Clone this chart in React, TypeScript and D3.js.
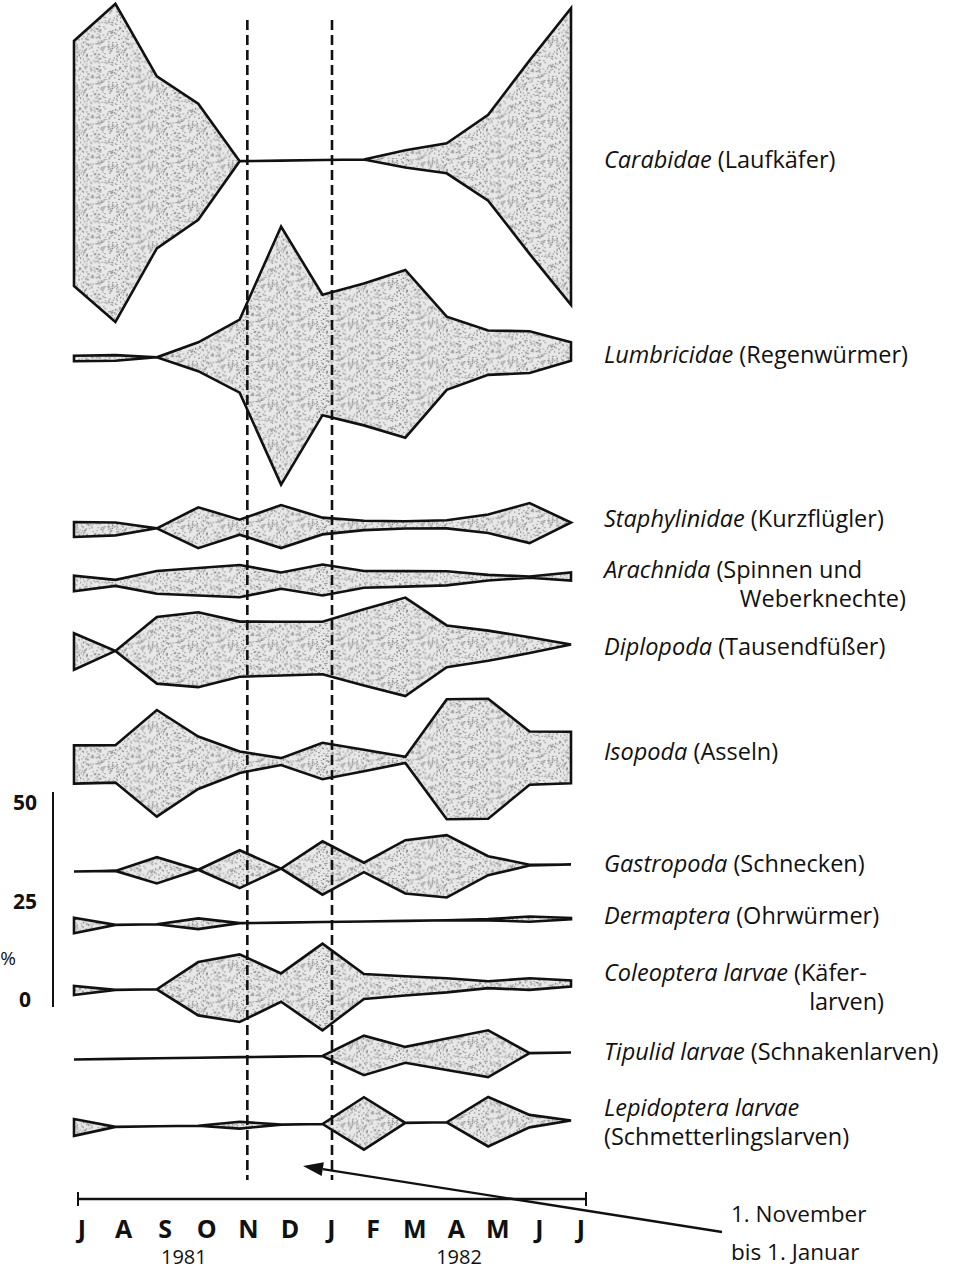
import React from "react";
import * as d3 from "d3";

// sampling months (Juli 1981 .. Juli 1982)
const months = ["J", "A", "S", "O", "N", "D", "J", "F", "M", "A", "M", "J", "J"];
const yearLabels = ["1981", "1982"];
const yearAt = [2.5, 9];

// relative abundance in %, one value per monthly sample
const carabidae = [57, 74, 40, 27, 0, 0, 0, 0, 4, 7, 20, 45, 69];
const lumbricidae = [1.3, 1.3, 0, 6.7, 17, 60, 28, 33, 39, 17, 10.3, 9.7, 4.3];
const staphylinidae = [3.5, 3, 0, 9.5, 3.5, 10, 3.9, 2.2, 1.7, 1.9, 4.3, 9.3, 0];
const arachnida = [3.6, 1.4, 5.3, 6.4, 7.5, 3.8, 7.2, 3.9, 3.6, 3.3, 1.3, 0.3, 1.9];
const diplopoda = [8.5, 0, 15.5, 17.4, 12.8, 12.5, 12.2, 17.7, 22.9, 9.7, 7, 3.7, 0];
const isopoda = [8.9, 8.7, 24.8, 12.2, 5, 1.6, 8.5, 5, 1.4, 27.9, 27.9, 12.4, 12];
const gastropoda = [0, 0, 6.1, 0, 8.8, 0, 12.4, 2.2, 12.4, 14.5, 4.4, 0.2, 0];
const dermaptera = [3.6, 0, 0, 2.5, 0, 0, 0, 0, 0, 0, 0.3, 1.2, 0.3];
const coleopteraLarvae = [2.1, 0, 0, 12.4, 15.7, 6.6, 20.2, 5.8, 4.5, 3.3, 1.6, 2.7, 1.4];
const tipulidLarvae = [0, 0, 0, 0, 0, 0, 0, 9.2, 3.7, 7.3, 10.9, 0, 0];
const lepidopteraLarvae = [3.9, 0, 0, 0, 1.6, 0, 0, 12.2, 0, 0, 11.5, 2.9, 0];

const series = [
  carabidae, lumbricidae, staphylinidae, arachnida, diplopoda, isopoda,
  gastropoda, dermaptera, coleopteraLarvae, tipulidLarvae, lepidopteraLarvae,
];

// labels: [italic, normal] per line
const labels: string[][][] = [
  [["Carabidae", " (Laufkäfer)"]],
  [["Lumbricidae", " (Regenwürmer)"]],
  [["Staphylinidae", " (Kurzflügler)"]],
  [["Arachnida", " (Spinnen und"], ["", "Weberknechte)"]],
  [["Diplopoda", " (Tausendfüßer)"]],
  [["Isopoda", " (Asseln)"]],
  [["Gastropoda", " (Schnecken)"]],
  [["Dermaptera", " (Ohrwürmer)"]],
  [["Coleoptera larvae", " (Käfer-"], ["", "larven)"]],
  [["Tipulid larvae", " (Schnakenlarven)"]],
  [["Lepidoptera larvae", ""], ["", "(Schmetterlingslarven)"]],
];

const scaleTicks = [0, 25, 50];
const note = ["1. November", "bis 1. Januar"];

// layout
const rowCenter = [160, 355, 526, 580, 648, 761, 868, 922, 987, 1056, 1124];
const labelBase = [168, 363, 527, 578, 655, 760, 872, 924, 981, 1060, 1116];
const secondLineEnd = [0, 0, 0, 906, 0, 0, 0, 0, 884, 0, 0];

const FONT = "'Open Sans', Lato, sans-serif";

// deterministic grain for the stippled fill
const grain = d3.range(230).map((i) => {
  const a = Math.sin(i * 12.9898) * 43758.5453;
  const b = Math.sin(i * 78.233 + 1.7) * 12345.6789;
  return [(a - Math.floor(a)) * 40, (b - Math.floor(b)) * 40];
});

export default function App() {
  const W = 955;
  const H = 1278;

  const monthX = d3.scaleLinear().domain([0, 12]).range([78, 586]);
  const labelX = d3.scaleLinear().domain([0, 12]).range([82, 581]);
  const sampleX = d3.scaleLinear().domain([0, 12]).range([74, 571]);
  const widthScale = d3.scaleLinear().domain([0, 50]).range([0, 215]);
  const pctBar = d3.scaleLinear().domain([0, 50]).range([1007, 792]);
  const pctLabel = d3.scaleLinear().domain([0, 50]).range([1000, 803]);

  const kite = (values: number[], c: number) =>
    d3
      .area<number>()
      .x((_, i) => sampleX(i))
      .y0((d) => c - widthScale(d) / 2)
      .y1((d) => c + widthScale(d) / 2)(values) || "";

  const axisY = 1199;
  const tip = [303, 1166];
  const tail = [722, 1232];
  const ang = Math.atan2(tail[1] - tip[1], tail[0] - tip[0]);
  const headLen = 20;
  const headW = 7;
  const hx = tip[0] + headLen * Math.cos(ang);
  const hy = tip[1] + headLen * Math.sin(ang);
  const head = [
    [tip[0], tip[1]],
    [hx - headW * Math.sin(ang), hy + headW * Math.cos(ang)],
    [hx + headW * Math.sin(ang), hy - headW * Math.cos(ang)],
  ];

  return (
    <svg
      width={W}
      height={H}
      style={{ position: "absolute", left: 0, top: 0, background: "#fff" }}
      fontFamily={FONT}
    >
      <defs>
        <pattern id="stipple" width={40} height={40} patternUnits="userSpaceOnUse">
          <rect width={40} height={40} fill="#e8e8e8" />
          {grain.map((g, i) => (
            <circle key={i} cx={g[0]} cy={g[1]} r={0.7} fill="#6a6a6a" opacity={0.75} />
          ))}
        </pattern>
      </defs>

      {/* kites, drawn with a slight tilt like the original */}
      <g transform="translate(323,0) skewY(-0.8) translate(-323,0)">
        {series.map((s, i) => (
          <path
            key={i}
            d={kite(s, rowCenter[i])}
            fill="url(#stipple)"
            stroke="#111"
            strokeWidth={2.6}
            strokeLinejoin="miter"
          />
        ))}
      </g>

      {/* 1. November - 1. Januar */}
      {[4, 6].map((m) => (
        <line
          key={m}
          x1={monthX(m)}
          x2={monthX(m)}
          y1={20}
          y2={1180}
          stroke="#111"
          strokeWidth={2.6}
          strokeDasharray="10 5"
        />
      ))}

      {/* labels */}
      {labels.map((lines, i) =>
        lines.map((ln, j) => {
          const second = j > 0 && secondLineEnd[i] > 0;
          return (
            <text
              key={i + "-" + j}
              x={second ? secondLineEnd[i] : 604}
              y={labelBase[i] + j * 29}
              textAnchor={second ? "end" : "start"}
              fontSize={23.5}
              fill="#111"
            >
              {ln[0] && <tspan fontStyle="italic">{ln[0]}</tspan>}
              {ln[1] && <tspan>{ln[1]}</tspan>}
            </text>
          );
        })
      )}

      {/* percent scale */}
      <line x1={53} x2={53} y1={pctBar(50)} y2={pctBar(0)} stroke="#111" strokeWidth={2} />
      {scaleTicks.map((t) => (
        <text
          key={t}
          x={25}
          y={pctLabel(t) + 7}
          textAnchor="middle"
          fontSize={21}
          fontWeight="bold"
          fill="#111"
        >
          {t}
        </text>
      ))}
      <text x={8} y={965} textAnchor="middle" fontSize={19} fill="#111">
        %
      </text>

      {/* time axis */}
      <line x1={monthX(0)} x2={monthX(12)} y1={axisY} y2={axisY} stroke="#111" strokeWidth={2.6} />
      {[0, 12].map((m) => (
        <line
          key={m}
          x1={monthX(m)}
          x2={monthX(m)}
          y1={axisY - 7}
          y2={axisY + 7}
          stroke="#111"
          strokeWidth={2}
        />
      ))}
      {months.map((m, i) => (
        <text
          key={i}
          x={labelX(i)}
          y={1238}
          textAnchor="middle"
          fontSize={25}
          fontWeight="bold"
          fill="#111"
        >
          {m}
        </text>
      ))}
      {yearLabels.map((y, i) => (
        <text key={y} x={monthX(yearAt[i])} y={1264} textAnchor="middle" fontSize={20} fill="#111">
          {y}
        </text>
      ))}

      {/* arrow note */}
      <line x1={tail[0]} y1={tail[1]} x2={hx} y2={hy} stroke="#111" strokeWidth={2.4} />
      <polygon points={head.map((p) => p.join(",")).join(" ")} fill="#111" />
      {note.map((t, i) => (
        <text key={t} x={731} y={1222 + i * 38} fontSize={22.5} fill="#111">
          {t}
        </text>
      ))}
    </svg>
  );
}
